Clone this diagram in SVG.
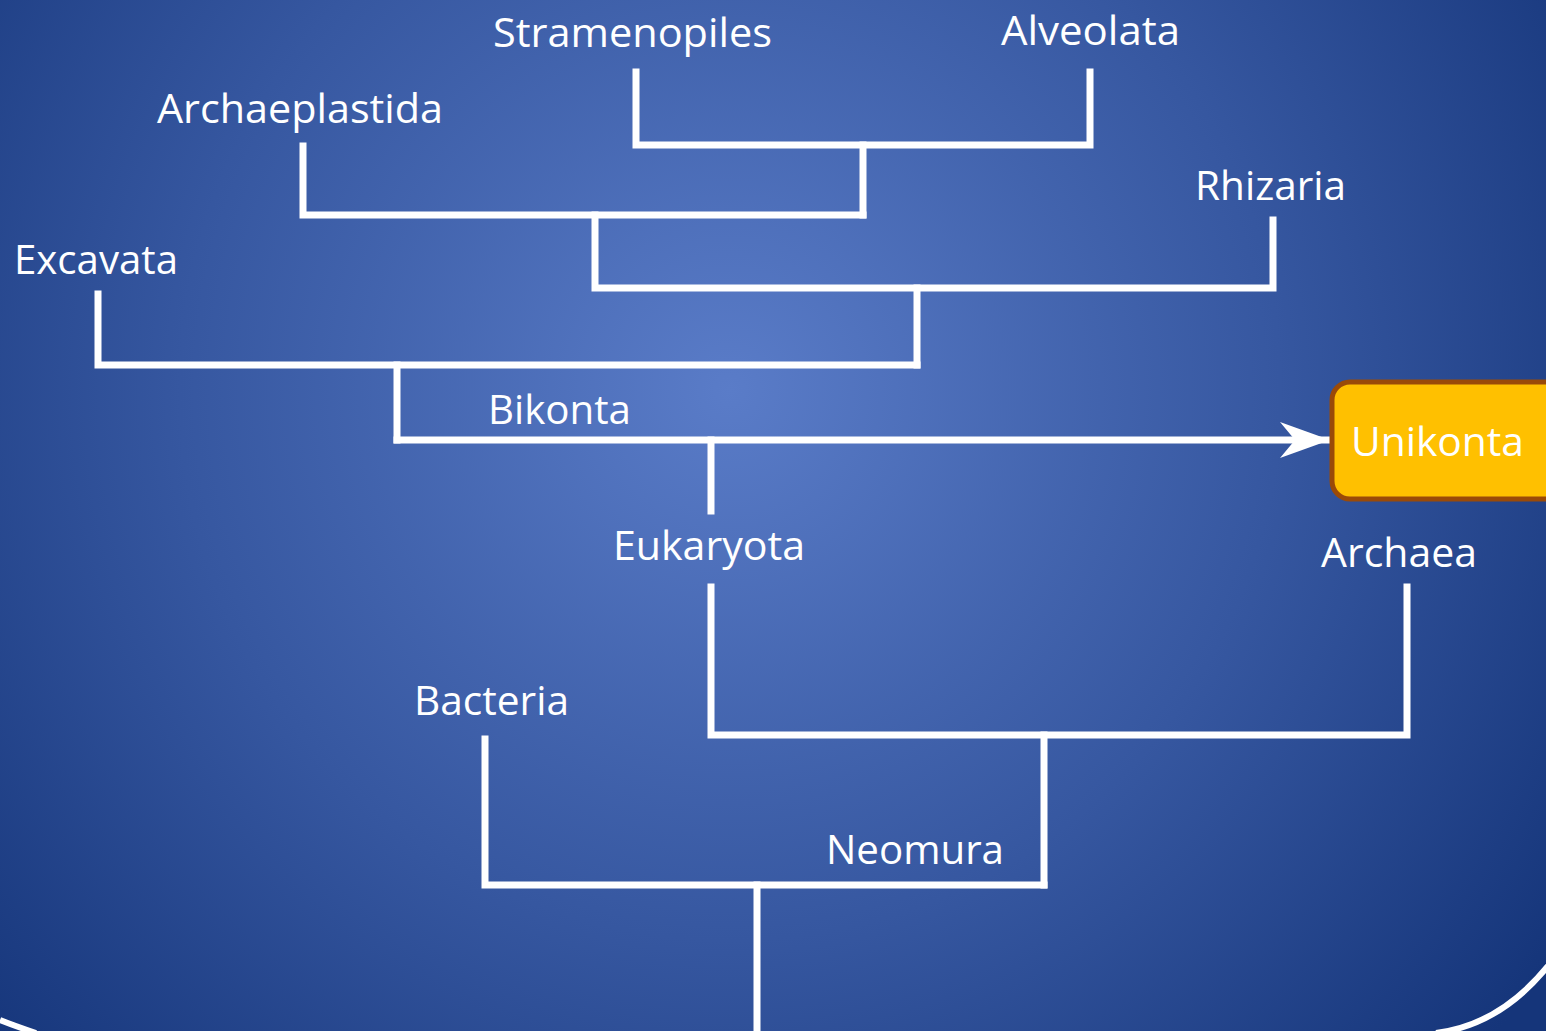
<svg xmlns="http://www.w3.org/2000/svg" width="1546" height="1031" viewBox="0 0 1546 1031">
<defs>
<radialGradient id="bg" cx="730" cy="390" r="1000" gradientUnits="userSpaceOnUse">
<stop offset="0" stop-color="#5A7CC8"/>
<stop offset="0.55" stop-color="#3657A0"/>
<stop offset="1" stop-color="#15357A"/>
</radialGradient>
<marker id="arr" markerUnits="userSpaceOnUse" markerWidth="52" markerHeight="40" refX="48" refY="20" orient="auto">
<path d="M0,2 L50,20 L0,38 L15,20 Z" fill="#fff"/>
</marker>
<style>
.lbl{font-family:"Open Sans","Liberation Sans",sans-serif;font-size:40px;fill:#fff}
.ln{fill:none;stroke:#fff;stroke-width:7;stroke-linecap:square;stroke-linejoin:miter}
</style>
</defs>
<rect width="1546" height="1031" fill="url(#bg)"/>
<path d="M0,1020 Q15,1026 36,1033" fill="none" stroke="#fff" stroke-width="6"/>
<path d="M1548,966 Q1500,1025 1436,1033" fill="none" stroke="#fff" stroke-width="6"/>
<g id="connectors">
<path class="ln" d="M636,72 V145 H1090 V72"/>
<path class="ln" d="M863,145 V215"/>
<path class="ln" d="M303,146 V215 H863"/>
<path class="ln" d="M595,215 V288 H1273 V220"/>
<path class="ln" d="M917,288 V365"/>
<path class="ln" d="M98,294 V365 H917"/>
<path class="ln" d="M397,365 V440"/>
<path class="ln" d="M397,440 H1328" marker-end="url(#arr)" stroke-linecap="butt"/>
<path class="ln" d="M711,440 V511"/>
<path class="ln" d="M711,587 V735 H1407 V587"/>
<path class="ln" d="M1044,735 V885"/>
<path class="ln" d="M485,739 V885 H1044"/>
<path class="ln" d="M757,885 V1034" stroke-linecap="butt"/>
</g>
<g id="stramenopiles"><text class="lbl" x="493" y="47" textLength="279" lengthAdjust="spacingAndGlyphs">Stramenopiles</text></g>
<g id="alveolata"><text class="lbl" x="1001" y="45" textLength="179" lengthAdjust="spacingAndGlyphs">Alveolata</text></g>
<g id="archaeplastida"><text class="lbl" x="157" y="123" textLength="286" lengthAdjust="spacingAndGlyphs">Archaeplastida</text></g>
<g id="rhizaria"><text class="lbl" x="1195" y="200" textLength="151" lengthAdjust="spacingAndGlyphs">Rhizaria</text></g>
<g id="excavata"><text class="lbl" x="14" y="274" textLength="164" lengthAdjust="spacingAndGlyphs">Excavata</text></g>
<g id="bikonta"><text class="lbl" x="488" y="424" textLength="143" lengthAdjust="spacingAndGlyphs">Bikonta</text></g>
<g id="unikonta">
<rect x="1332" y="382" width="230" height="117" rx="18" fill="#FFC000" stroke="#9A4A08" stroke-width="5"/>
<text class="lbl" x="1351" y="456" textLength="173" lengthAdjust="spacingAndGlyphs">Unikonta</text>
</g>
<g id="eukaryota"><text class="lbl" x="613" y="560" textLength="192" lengthAdjust="spacingAndGlyphs">Eukaryota</text></g>
<g id="archaea"><text class="lbl" x="1321" y="567" textLength="156" lengthAdjust="spacingAndGlyphs">Archaea</text></g>
<g id="bacteria"><text class="lbl" x="414" y="715" textLength="155" lengthAdjust="spacingAndGlyphs">Bacteria</text></g>
<g id="neomura"><text class="lbl" x="826" y="864" textLength="178" lengthAdjust="spacingAndGlyphs">Neomura</text></g>
</svg>
